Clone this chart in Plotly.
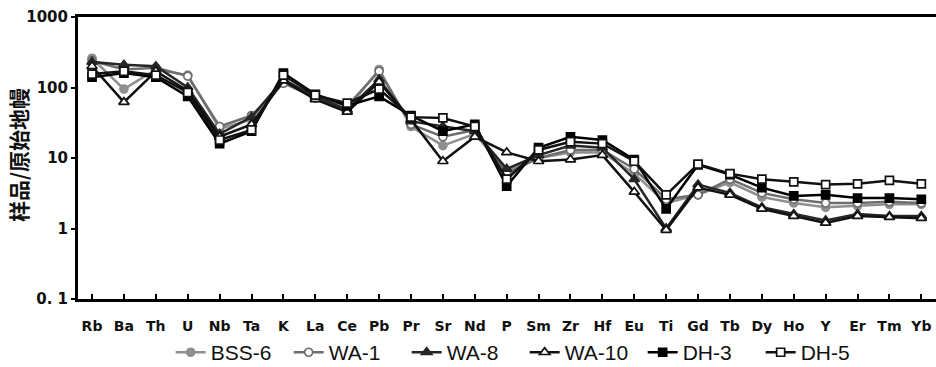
import plotly.graph_objects as go

elements = ["Rb","Ba","Th","U","Nb","Ta","K","La","Ce","Pb","Pr","Sr","Nd","P",
            "Sm","Zr","Hf","Eu","Ti","Gd","Tb","Dy","Ho","Y","Er","Tm","Yb"]

bss6 = [260, 95, 180, 150, 26, 35, 120, 70, 50, 180, 28, 15, 22, 6.5, 10, 12, 12, 6, 2.3, 3.0, 4.5, 2.8, 2.3, 2.0, 2.1, 2.2, 2.2]
wa1  = [240, 180, 190, 145, 28, 40, 115, 72, 55, 170, 30, 20, 25, 6, 10, 13, 13, 7, 2.6, 3.0, 5.0, 3.2, 2.6, 2.3, 2.3, 2.4, 2.3]
wa8  = [230, 210, 200, 100, 22, 38, 130, 75, 48, 130, 33, 28, 24, 7, 11, 15, 14, 5, 1.0, 4.2, 3.2, 2.0, 1.6, 1.3, 1.6, 1.5, 1.5]
wa10 = [200, 62, 170, 90, 20, 30, 125, 68, 45, 120, 35, 9, 20, 12, 9, 9.5, 11, 3.3, 0.95, 3.8, 3.0, 1.9, 1.5, 1.2, 1.5, 1.45, 1.4]
dh3  = [140, 160, 140, 75, 16, 24, 160, 80, 55, 75, 40, 24, 30, 4, 14, 20, 18, 9.5, 1.9, 8.0, 5.8, 3.8, 2.9, 3.0, 2.7, 2.7, 2.6]
dh5  = [155, 170, 150, 85, 18, 25, 150, 78, 60, 95, 38, 37, 28, 5, 13, 17, 16, 9, 3.0, 8.2, 6.0, 5.0, 4.6, 4.2, 4.3, 4.8, 4.3]

series_names = ["BSS-6", "WA-1", "WA-8", "WA-10", "DH-3", "DH-5"]
series_values = [bss6, wa1, wa8, wa10, dh3, dh5]

y_tickvals = [0.1, 1, 10, 100, 1000]
y_ticktext = ["0. 1", "1", "10", "100", "1000"]

styles = [
    dict(line="#8f8f8f", symbol="circle", fill="#8f8f8f", edge="#8f8f8f", size=8),
    dict(line="#6e6e6e", symbol="circle", fill="white", edge="#6e6e6e", size=8),
    dict(line="#262626", symbol="triangle-up", fill="#262626", edge="#262626", size=9),
    dict(line="#111111", symbol="triangle-up", fill="white", edge="#111111", size=9),
    dict(line="#000000", symbol="square", fill="#000000", edge="#000000", size=8),
    dict(line="#111111", symbol="square", fill="white", edge="#111111", size=8),
]

fig = go.Figure()
for name, vals, st in zip(series_names, series_values, styles):
    fig.add_trace(go.Scatter(
        x=elements, y=vals, name=name, mode="lines+markers",
        line=dict(color=st["line"], width=2.5),
        marker=dict(symbol=st["symbol"], size=st["size"], color=st["fill"],
                    line=dict(color=st["edge"], width=1.7)),
    ))

tick_font = dict(family="DejaVu Sans", size=14, color="#111111", weight="bold")

fig.update_layout(
    width=936, height=367,
    margin=dict(l=78, r=0, t=17, b=68, autoexpand=False),
    paper_bgcolor="white", plot_bgcolor="white",
    showlegend=True,
    legend=dict(orientation="h", x=0.108, xanchor="left",
                y=-0.19, yanchor="middle",
                entrywidth=73, entrywidthmode="pixels",
                font=dict(family="Liberation Sans", size=21, color="#111111"),
                itemwidth=30, tracegroupgap=0, bgcolor="rgba(0,0,0,0)"),
    xaxis=dict(type="category", range=[-0.44, 26.46], automargin=False,
               showline=True, linecolor="black", linewidth=3, mirror=True,
               ticks="inside", ticklen=5, tickwidth=2, tickcolor="black",
               tickfont=tick_font, ticklabelstandoff=12,
               showgrid=False, zeroline=False),
    yaxis=dict(type="log", range=[-1, 3], automargin=False,
               tickvals=y_tickvals, ticktext=y_ticktext,
               showline=True, linecolor="black", linewidth=3,
               ticks="outside", ticklen=4, tickwidth=2, tickcolor="black",
               tickfont=dict(family="DejaVu Sans", size=15, color="#111111", weight="bold"),
               showgrid=False, zeroline=False),
    annotations=[dict(text="样品/原始地幔", textangle=-90, xref="paper", yref="paper",
                      x=-0.07, y=0.51, xanchor="center", yanchor="middle",
                      showarrow=False,
                      font=dict(family="Noto Sans CJK SC", size=21, color="#111111", weight="bold"))],
)

fig.write_html("out.html", config={"displayModeBar": False},
               post_script="document.body.style.margin='0';")
